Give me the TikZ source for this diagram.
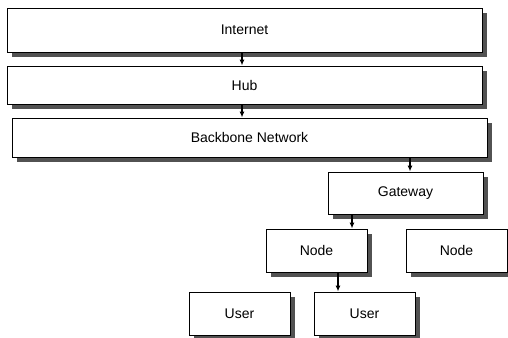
\documentclass[tikz,border=0pt]{standalone}
\usepackage{fontspec}
\setmainfont{Liberation Sans}
\usetikzlibrary{arrows.meta,shadows}
\begin{document}
\begin{tikzpicture}[x=1pt,y=-1pt,
  box/.style={draw=black, line width=0.9pt, fill=white, rectangle,
    inner sep=0pt, font=\fontsize{14}{16}\selectfont,
    drop shadow={shadow xshift=5pt, shadow yshift=-5pt, fill=black!68, opacity=1}},
  link/.style={line width=1.3pt, -{Latex[length=6pt,width=5pt]}}]
\useasboundingbox (0,0) rectangle (508,337);
% layers of the network
\node[box, minimum width=475pt, minimum height=44pt] (internet) at (244.5,30) {Internet};
\node[box, minimum width=475pt, minimum height=38pt] (hub) at (244.5,85) {Hub};
\node[box, minimum width=475pt, minimum height=39pt] (backbone) at (249.5,137.5) {Backbone Network};
\node[box, minimum width=155pt, minimum height=42pt] (gateway) at (405.5,193) {Gateway};
\node[box, minimum width=101pt, minimum height=43pt] (node1) at (316.5,250.5) {Node};
\node[box, minimum width=101pt, minimum height=43pt] (node2) at (456.5,250.5) {Node};
\node[box, minimum width=101pt, minimum height=43pt] (user1) at (239.5,313.5) {User};
\node[box, minimum width=101pt, minimum height=43pt] (user2) at (364.5,313.5) {User};
% vertical positions of the links
\coordinate (xa) at (242,0);
\coordinate (xb) at (410,0);
\coordinate (xc) at (352,0);
\coordinate (xd) at (338,0);
\draw[link] (internet.south -| xa) -- (hub.north -| xa);
\draw[link] (hub.south -| xa) -- (backbone.north -| xa);
\draw[link] (backbone.south -| xb) -- (gateway.north -| xb);
\draw[link] (gateway.south -| xc) -- (node1.north -| xc);
\draw[link] (node1.south -| xd) -- (user2.north -| xd);
\end{tikzpicture}
\end{document}
